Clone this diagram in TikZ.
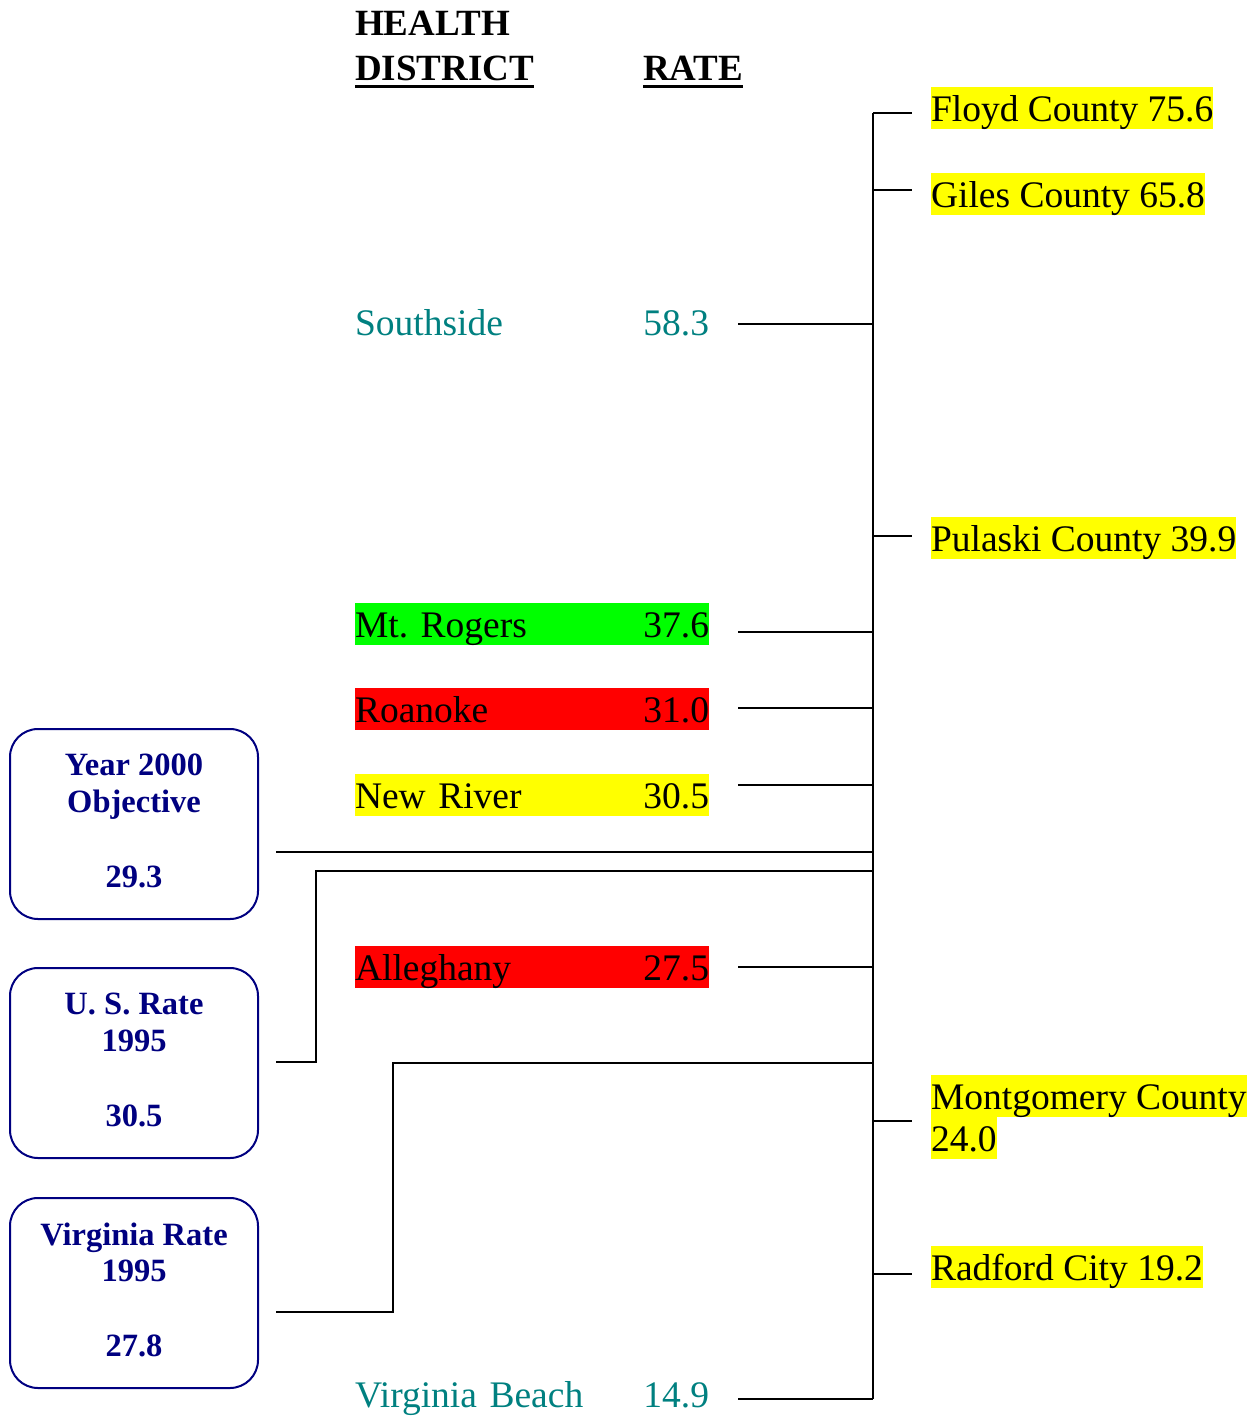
\documentclass[tikz,border=0pt]{standalone}
\usepackage{fontspec}
\setmainfont{Liberation Serif}
\frenchspacing
\definecolor{navyb}{RGB}{0,0,128}
\definecolor{tealt}{RGB}{0,128,128}
\definecolor{hlgreen}{RGB}{0,255,0}
\definecolor{hlred}{RGB}{255,0,0}
\definecolor{hlyellow}{RGB}{255,255,0}
\begin{document}
\begin{tikzpicture}[x=1pt,y=-1pt,
  every node/.style={inner sep=0pt, outer sep=0pt},
  lbl/.style={font=\fontsize{37.5}{42}\selectfont, anchor=base west, text height=34pt, text depth=8pt},
  hl/.style={lbl, fill=hlyellow},
  rowbox/.style={lbl, fill=#1, text width=354pt},
  plainrow/.style={lbl, text=tealt, text width=354pt},
  hdr/.style={font=\fontsize{37}{45}\selectfont\bfseries, anchor=base west},
  bx/.style={draw=navyb, line width=2pt, rounded corners=28pt, minimum width=248pt, minimum height=190pt, anchor=north west},
  bxt/.style={font=\fontsize{32.5}{37}\selectfont\bfseries, text=navyb, anchor=base},
  conn/.style={line width=2pt, draw=black},
  uline/.style={line width=3pt, draw=black}
]
\useasboundingbox (0,0) rectangle (1259,1416);

% headers
\node[hdr] (h1) at (355,35) {HEALTH};
\node[hdr] (h2) at (355,80) {DISTRICT};
\node[hdr] (h3) at (643,80) {RATE};
\draw[uline] ([yshift=-6pt]h2.base west) -- ([yshift=-6pt]h2.base east);
\draw[uline] ([yshift=-6pt]h3.base west) -- ([yshift=-6pt]h3.base east);

% district rows
\node[plainrow] (ss) at (355,335) {Southside\hfill 58.3};
\node[rowbox=hlgreen] (mr) at (355,637) {Mt. Rogers\hfill 37.6};
\node[rowbox=hlred] (ro) at (355,722) {Roanoke\hfill 31.0};
\node[rowbox=hlyellow] (nr) at (355,808) {New River\hfill 30.5};
\node[rowbox=hlred] (al) at (355,980) {Alleghany\hfill 27.5};
\node[plainrow] (vb) at (355,1407) {Virginia Beach\hfill 14.9};

% county labels
\node[hl] (fl) at (931,121) {Floyd County 75.6};
\node[hl] (gi) at (931,207) {Giles County 65.8};
\node[hl] (pu) at (931,551) {Pulaski County 39.9};
\node[hl] (mo1) at (931,1109) {Montgomery County};
\node[hl] (mo2) at (931,1151) {24.0};
\node[hl] (ra) at (931,1280) {Radford City 19.2};

% rate boxes
\node[bx] (y2k) at (10,729) {};
\node[bxt] (y2ka) at (134,775) {Year 2000};
\node[bxt] (y2kb) at (134,812) {Objective};
\node[bxt] (y2kc) at (134,887) {29.3};
\node[bx] (us) at (10,968) {};
\node[bxt] (usa) at (134,1014) {U. S. Rate};
\node[bxt] (usb) at (134,1051) {1995};
\node[bxt] (usc) at (134,1126) {30.5};
\node[bx] (va) at (10,1198) {};
\node[bxt] (vaa) at (134,1245) {Virginia Rate};
\node[bxt] (vab) at (134,1281) {1995};
\node[bxt] (vac) at (134,1356) {27.8};

% junction coordinates on the trunk
\coordinate (jfl) at (873,113);
\coordinate (jgi) at (873,190);
\coordinate (jss) at (873,324);
\coordinate (jpu) at (873,536);
\coordinate (jmr) at (873,632);
\coordinate (jro) at (873,708);
\coordinate (jnr) at (873,785);
\coordinate (jy2k) at (873,852);
\coordinate (jus) at (873,871);
\coordinate (jal) at (873,967);
\coordinate (jva) at (873,1063);
\coordinate (jmo) at (873,1121);
\coordinate (jra) at (873,1274);
\coordinate (jvb) at (873,1399);
\coordinate (kus) at (316,1062);
\coordinate (kva) at (393,1312);

% trunk
\draw[conn] (jfl) -- (jvb);

% right ticks
\draw[conn] (jfl) -- ([xshift=-19pt]fl.west |- jfl);
\draw[conn] (jgi) -- ([xshift=-19pt]gi.west |- jgi);
\draw[conn] (jpu) -- ([xshift=-19pt]pu.west |- jpu);
\draw[conn] (jmo) -- ([xshift=-19pt]mo1.west |- jmo);
\draw[conn] (jra) -- ([xshift=-19pt]ra.west |- jra);

% district connectors
\draw[conn] ([xshift=29pt]ss.east |- jss) -- (jss);
\draw[conn] ([xshift=29pt]mr.east |- jmr) -- (jmr);
\draw[conn] ([xshift=29pt]ro.east |- jro) -- (jro);
\draw[conn] ([xshift=29pt]nr.east |- jnr) -- (jnr);
\draw[conn] ([xshift=29pt]al.east |- jal) -- (jal);
\draw[conn] ([xshift=29pt]vb.east |- jvb) -- (jvb);

% box connectors
\draw[conn] ([xshift=18pt]y2k.east |- jy2k) -- (jy2k);
\draw[conn] (jus) -| (kus) -- ([xshift=18pt]us.east |- kus);
\draw[conn] (jva) -| (kva) -- ([xshift=18pt]va.east |- kva);
\end{tikzpicture}
\end{document}
